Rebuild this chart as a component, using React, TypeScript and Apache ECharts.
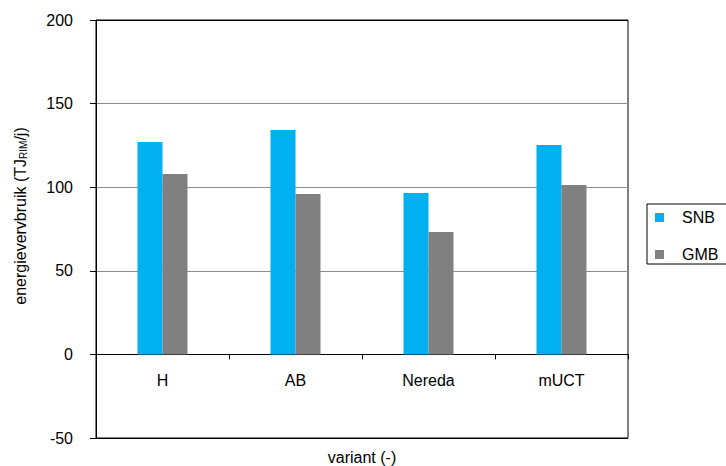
import React, { useEffect, useRef } from "react";
import * as echarts from "echarts";

const categories = ["H", "AB", "Nereda", "mUCT"];
const snbValues = [127.0, 134.2, 96.5, 125.2];
const gmbValues = [107.9, 95.9, 73.2, 101.3];
const seriesNames = ["SNB", "GMB"];
const yTicks = { min: -50, max: 200, interval: 50 };

const FONT = "Liberation Sans, Arial, sans-serif";

const GRID_TOP = 20;
const GRID_BOTTOM_Y = 438;
const ZERO_Y = GRID_TOP + ((yTicks.max - 0) / (yTicks.max - yTicks.min)) * (GRID_BOTTOM_Y - GRID_TOP);

export default function App() {
  const ref = useRef<HTMLDivElement>(null);
  useEffect(() => {
    document.body.style.margin = "0";
    const chart = echarts.init(ref.current!, null, { renderer: "svg" });
    chart.setOption({
      animation: false,
      textStyle: { fontFamily: FONT },
      grid: {
        left: 96,
        right: 98,
        top: GRID_TOP,
        bottom: 466 - GRID_BOTTOM_Y,
        containLabel: false,
        outerBoundsMode: "none",
        show: true,
        borderColor: "#000",
        borderWidth: 1,
        backgroundColor: "transparent",
      },
      legend: {
        orient: "vertical",
        left: 647,
        top: 204,
        padding: [5.5, 15, 1.5, 8],
        itemGap: 21,
        itemWidth: 9,
        itemHeight: 9,
        icon: "rect",
        borderColor: "#000",
        borderWidth: 1,
        data: seriesNames,
        textStyle: {
          fontFamily: FONT,
          fontSize: 16,
          lineHeight: 16,
          color: "#000",
          padding: [0, 0, 0, 13],
        },
      },
      xAxis: {
        type: "category",
        data: categories,
        position: "bottom",
        offset: -(GRID_BOTTOM_Y - ZERO_Y),
        axisLine: { onZero: false, lineStyle: { color: "#000", width: 1 } },
        axisTick: { show: true, length: 5, lineStyle: { color: "#000" } },
        axisLabel: { margin: 18, fontSize: 16, color: "#000", fontFamily: FONT },
        splitLine: { show: false },
      },
      yAxis: {
        type: "value",
        min: yTicks.min,
        max: yTicks.max,
        interval: yTicks.interval,
        axisLine: { show: true, lineStyle: { color: "#000", width: 1 } },
        axisTick: { show: true, length: 6, inside: false, lineStyle: { color: "#000" } },
        axisLabel: { margin: 23, fontSize: 16, color: "#000", fontFamily: FONT },
        splitLine: {
          show: true,
          lineStyle: { color: ["#000", "#000", "#8c8c8c", "#8c8c8c", "#8c8c8c", "#000"], width: 1 },
        },
      },
      series: [
        {
          name: seriesNames[0],
          type: "bar",
          data: snbValues,
          barWidth: 25,
          barGap: "0%",
          itemStyle: { color: "#00B0F0" },
        },
        {
          name: seriesNames[1],
          type: "bar",
          data: gmbValues,
          barWidth: 25,
          barGap: "0%",
          itemStyle: { color: "#808080" },
        },
      ],
      graphic: [
        {
          type: "text",
          x: 20,
          y: 216,
          rotation: Math.PI / 2,
          style: {
            text: "energievervbruik (TJ{s|RIM}/j)",
            font: `16px ${FONT}`,
            fill: "#000",
            align: "center",
            verticalAlign: "middle",
            rich: {
              s: { fontSize: 10, fontFamily: FONT, verticalAlign: "bottom", fill: "#000" },
            },
          },
        },
        {
          type: "text",
          x: 362,
          y: 457,
          style: {
            text: "variant (-)",
            font: `16px ${FONT}`,
            fill: "#000",
            align: "center",
            verticalAlign: "middle",
          },
        },
      ],
    });
    return () => chart.dispose();
  }, []);
  return <div ref={ref} style={{ width: 726, height: 466 }} />;
}
